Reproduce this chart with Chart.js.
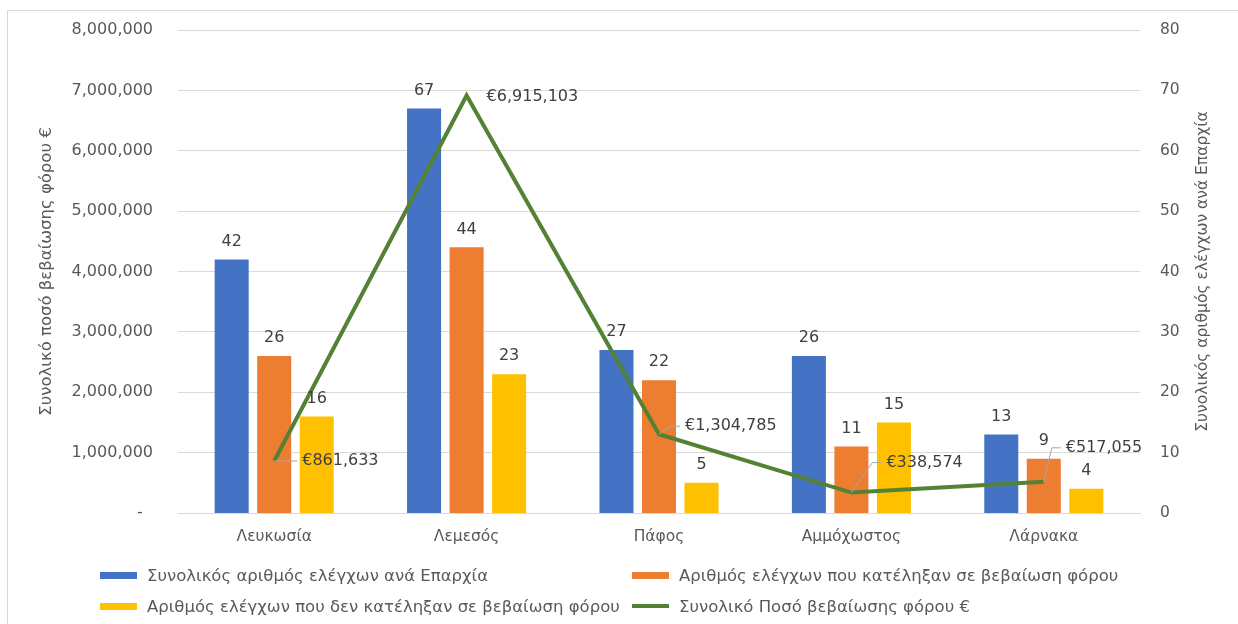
<!DOCTYPE html>
<html>
<head>
<meta charset="utf-8">
<script src="https://cdn.jsdelivr.net/npm/chart.js@4.4.1/dist/chart.umd.min.js"></script>
<style>
  html, body { margin: 0; padding: 0; background: #fff; }
  #wrap { position: relative; width: 1238px; height: 624px; overflow: hidden; font-family: "DejaVu Sans", sans-serif; }
  #frame { position: absolute; left: 7px; top: 10px; right: -10px; bottom: -10px; border-left: 1px solid #d6d6d6; border-top: 1px solid #d6d6d6; }
  canvas { position: absolute; left: 0; top: 0; }
  #legend { position: absolute; left: 0; top: 0; width: 1238px; height: 624px; pointer-events: none; }
  .item { position: absolute; display: flex; align-items: center; height: 20px; font-size: 16.5px; color: #595959; white-space: nowrap; }
  .sw { width: 37px; height: 7px; margin-right: 10px; flex: none; }
  .sw.line { height: 4px; }
</style>
</head>
<body>
<div id="wrap">
  <div id="frame"></div>
  <canvas id="c" width="1238" height="624"></canvas>
  <div id="legend"></div>
</div>
<script>
// Districts and audit results
const districts = ['Λευκωσία', 'Λεμεσός', 'Πάφος', 'Αμμόχωστος', 'Λάρνακα'];
const totalAudits = [42, 67, 27, 26, 13];
const auditsWithAssessment = [26, 44, 22, 11, 9];
const auditsWithoutAssessment = [16, 23, 5, 15, 4];
const assessedTaxEuro = [861633, 6915103, 1304785, 338574, 517055];

const seriesNames = [
  'Συνολικός αριθμός ελέγχων ανά Επαρχία',
  'Αριθμός ελέγχων που κατέληξαν σε βεβαίωση φόρου',
  'Αριθμός ελέγχων που δεν κατέληξαν σε βεβαίωση φόρου',
  'Συνολικό Ποσό βεβαίωσης φόρου €'
];
const amountAxisTitle = 'Συνολικό ποσό βεβαίωσης φόρου €';
const countAxisTitle = 'Συνολικός αριθμός ελέγχων ανά Επαρχία';

// Axis ranges
const amountAxisMax = 8000000;
const amountAxisStep = 1000000;
const countAxisMax = 80;
const countAxisStep = 10;

// Styling
const FONT = '"DejaVu Sans", sans-serif';
const TEXT = '#595959';
const LABEL = '#404040';
const GRID = '#d9d9d9';
const colors = ['#4472C4', '#ED7D31', '#FFC000', '#548235'];

// Placement of the euro labels next to each line point: [dx, dy, leader line]
const amountLabelPlacement = [[28, 0, true], [20, 1, false], [26, -8, true], [35, -30, true], [22, -34, true]];

const euro = v => '€' + v.toLocaleString('en-US');

const valueLabels = {
  id: 'valueLabels',
  afterDatasetsDraw(chart) {
    const ctx = chart.ctx;
    ctx.save();
    ctx.font = '16px ' + FONT;
    ctx.fillStyle = LABEL;
    chart.data.datasets.forEach((ds, i) => {
      const meta = chart.getDatasetMeta(i);
      if (ds.type === 'line') {
        meta.data.forEach((pt, j) => {
          const [dx, dy, leader] = amountLabelPlacement[j];
          const tx = pt.x + dx, ty = pt.y + dy;
          if (leader) {
            ctx.strokeStyle = '#a6a6a6';
            ctx.lineWidth = 1;
            ctx.beginPath();
            ctx.moveTo(pt.x, pt.y);
            if (dy !== 0) ctx.lineTo(tx - 14, ty);
            ctx.lineTo(tx - 5, ty);
            ctx.stroke();
          }
          ctx.textAlign = 'left';
          ctx.textBaseline = 'middle';
          ctx.fillText(euro(ds.data[j]), tx, ty);
        });
      } else {
        ctx.textAlign = 'center';
        ctx.textBaseline = 'middle';
        meta.data.forEach((bar, j) => {
          ctx.fillText(String(ds.data[j]), bar.x, bar.y - 18);
        });
      }
    });
    ctx.restore();
  },
  afterDraw(chart) {
    // Right axis title, reading bottom to top like the left one
    const ctx = chart.ctx;
    const s = chart.scales.yCount;
    ctx.save();
    ctx.font = '15.5px ' + FONT;
    ctx.fillStyle = TEXT;
    ctx.textAlign = 'center';
    ctx.textBaseline = 'middle';
    ctx.translate(s.right - 35, (s.top + s.bottom) / 2);
    ctx.rotate(-Math.PI / 2);
    ctx.fillText(countAxisTitle, 0, 0);
    ctx.restore();
  }
};

// Fixed axis sizes so the plot area sits at the same place regardless of label widths
const fixVertical = width => s => { s.width = width; s.paddingTop = 10; s.paddingBottom = 10; };

const barCommon = { type: 'bar', yAxisID: 'yCount', order: 1, categoryPercentage: 0.663, barPercentage: 0.8 };

const chart = new Chart(document.getElementById('c'), {
  data: {
    labels: districts,
    datasets: [
      { ...barCommon, label: seriesNames[0], data: totalAudits, backgroundColor: colors[0] },
      { ...barCommon, label: seriesNames[1], data: auditsWithAssessment, backgroundColor: colors[1] },
      { ...barCommon, label: seriesNames[2], data: auditsWithoutAssessment, backgroundColor: colors[2] },
      { type: 'line', label: seriesNames[3], data: assessedTaxEuro, yAxisID: 'yAmount', order: 0,
        borderColor: colors[3], borderWidth: 4, pointRadius: 0, tension: 0, fill: false }
    ]
  },
  options: {
    responsive: false,
    animation: false,
    devicePixelRatio: 1,
    layout: { padding: { top: 30, bottom: 71, left: 0, right: 0 } },
    plugins: { legend: { display: false }, tooltip: { enabled: false } },
    scales: {
      x: {
        grid: { display: false },
        border: { display: true, color: GRID, width: 1 },
        ticks: { color: TEXT, font: { family: FONT, size: 15.5 }, padding: 7 },
        afterFit(s) { s.height = 40; }
      },
      yAmount: {
        position: 'left',
        min: 0, max: amountAxisMax,
        grid: { color: GRID, drawTicks: false, lineWidth: 1 },
        border: { display: false },
        ticks: {
          stepSize: amountAxisStep,
          color: TEXT, font: { family: FONT, size: 16 }, padding: 25,
          callback: v => v === 0 ? '-  ' : v.toLocaleString('en-US')
        },
        title: { display: true, text: amountAxisTitle, color: TEXT, font: { family: FONT, size: 16.5 }, padding: { top: 37, bottom: 0 } },
        afterFit: fixVertical(178)
      },
      yCount: {
        position: 'right',
        min: 0, max: countAxisMax,
        grid: { display: false, drawTicks: false },
        border: { display: false },
        ticks: { stepSize: countAxisStep, color: TEXT, font: { family: FONT, size: 15.5 }, padding: 20 },
        afterFit: fixVertical(98)
      }
    }
  },
  plugins: [valueLabels]
});

// Legend laid out in two columns under the plot
const legendSlots = [[100, 565], [632, 565], [100, 596], [632, 596]];
const legend = document.getElementById('legend');
chart.data.datasets.forEach((ds, i) => {
  const item = document.createElement('div');
  item.className = 'item';
  item.style.left = legendSlots[i][0] + 'px';
  item.style.top = legendSlots[i][1] + 'px';
  const sw = document.createElement('span');
  sw.className = 'sw' + (ds.type === 'line' ? ' line' : '');
  sw.style.background = ds.type === 'line' ? ds.borderColor : ds.backgroundColor;
  const txt = document.createElement('span');
  txt.textContent = ds.label;
  item.appendChild(sw);
  item.appendChild(txt);
  legend.appendChild(item);
});
</script>
</body>
</html>
